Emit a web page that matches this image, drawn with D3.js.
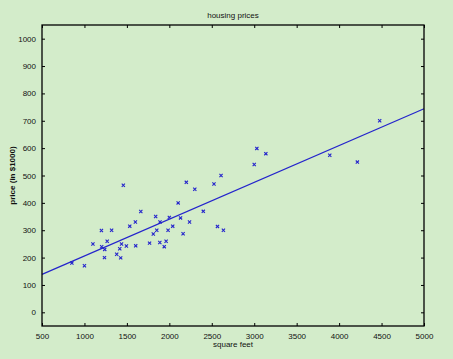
<!DOCTYPE html>
<html>
<head>
<meta charset="utf-8">
<script src="https://cdn.jsdelivr.net/npm/d3@7"></script>
<style>
  body { margin: 0; background: #d3ecca; }
  svg { display: block; font-family: "Liberation Sans", Arial, sans-serif; }
</style>
</head>
<body>
<div id="chart"></div>
<script>
// house size (sq ft) and price (in $1000)
var sizes = [2104, 1600, 2400, 1416, 3000, 1985, 1534, 1427, 1380, 1494, 1940, 2000,
  1890, 4478, 1268, 2300, 1320, 1236, 2609, 3031, 1767, 1888, 1604, 1962, 3890,
  1100, 1458, 2526, 2200, 2637, 1839, 1000, 2040, 3137, 1811, 1437, 1239, 2132,
  4215, 2162, 1664, 2238, 2567, 1200, 852, 1852, 1203];
var prices = [399.9, 329.9, 369.0, 232.0, 539.9, 299.9, 314.9, 199.0, 212.0, 242.5,
  240.0, 347.0, 330.0, 699.9, 259.9, 449.9, 299.9, 199.9, 500.0, 599.0, 252.9,
  255.0, 242.9, 259.9, 573.9, 249.9, 464.5, 469.0, 475.0, 299.9, 349.9, 169.9,
  314.9, 579.9, 285.9, 249.9, 229.9, 345.0, 549.0, 287.0, 368.5, 329.9, 314.0,
  299.0, 179.9, 299.9, 239.5];

// fitted line end points
var fitX = [500, 5000];
var fitY = [138.5, 744];

var xTicks = d3.range(500, 5001, 500);
var yTicks = d3.range(0, 1001, 100);

var W = 453, H = 359;
var margin = {top: 25, right: 29, bottom: 33, left: 42};
var width = W - margin.left - margin.right,
    height = H - margin.top - margin.bottom;

var svg = d3.select("#chart").append("svg")
    .attr("width", W)
    .attr("height", H);

var g = svg.append("g")
    .attr("transform", "translate(" + margin.left + "," + margin.top + ")");

var x = d3.scaleLinear().domain([500, 5000]).range([0, width]);
var y = d3.scaleLinear().domain([-50, 1050]).range([height, 0]);

var blue = "#2424cc";

// fitted line
g.append("path")
    .datum(d3.zip(fitX, fitY))
    .attr("fill", "none")
    .attr("stroke", blue)
    .attr("stroke-width", 1.2)
    .attr("d", d3.line().x(function(d){ return x(d[0]); }).y(function(d){ return y(d[1]); }));

// x markers
var s = 1.6;
g.selectAll("path.pt")
    .data(d3.zip(sizes, prices))
  .enter().append("path")
    .attr("class", "pt")
    .attr("fill", "none")
    .attr("stroke", blue)
    .attr("stroke-width", 1.1)
    .attr("d", function(d){
      var cx = x(d[0]), cy = y(d[1]);
      return "M" + (cx - s) + "," + (cy - s) + "L" + (cx + s) + "," + (cy + s) +
             "M" + (cx - s) + "," + (cy + s) + "L" + (cx + s) + "," + (cy - s);
    });

// axes, ticks pointing inward on all sides
function style(sel){
  sel.selectAll("text").attr("font-size", "8px").attr("fill", "#111");
  sel.selectAll("line").attr("stroke", "#000");
  sel.select(".domain").remove();
}

g.append("g")
    .attr("transform", "translate(0," + height + ")")
    .call(d3.axisBottom(x).tickValues(xTicks).tickSize(-3).tickPadding(7).tickFormat(d3.format("d")))
    .call(style);

g.append("g")
    .call(d3.axisTop(x).tickValues(xTicks).tickSize(-3).tickFormat(""))
    .call(style);

g.append("g")
    .call(d3.axisLeft(y).tickValues(yTicks).tickSize(-3).tickPadding(6).tickFormat(d3.format("d")))
    .call(style);

g.append("g")
    .attr("transform", "translate(" + width + ",0)")
    .call(d3.axisRight(y).tickValues(yTicks).tickSize(-3).tickFormat(""))
    .call(style);

// frame
g.append("rect")
    .attr("width", width)
    .attr("height", height)
    .attr("fill", "none")
    .attr("stroke", "#000")
    .attr("stroke-width", 1.3);

// labels
svg.append("text")
    .attr("x", margin.left + width / 2)
    .attr("y", 18)
    .attr("text-anchor", "middle")
    .attr("font-size", "8px")
    .attr("fill", "#111")
    .text("housing prices");

svg.append("text")
    .attr("x", margin.left + width / 2)
    .attr("y", 347)
    .attr("text-anchor", "middle")
    .attr("font-size", "8px")
    .attr("fill", "#111")
    .text("square feet");

svg.append("text")
    .attr("transform", "translate(15," + (margin.top + height / 2) + ") rotate(-90)")
    .attr("text-anchor", "middle")
    .attr("font-size", "8px")
    .attr("font-weight", "bold")
    .attr("fill", "#111")
    .text("price (in $1000)");
</script>
</body>
</html>
